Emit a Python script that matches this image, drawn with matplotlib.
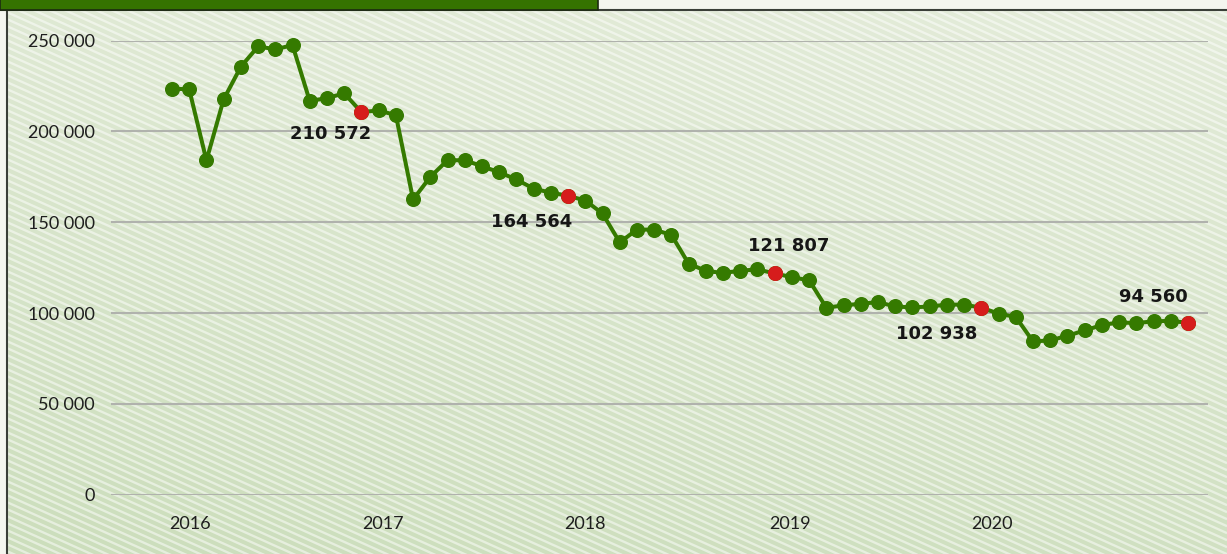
import numpy as np
import matplotlib
matplotlib.use('Agg')
import matplotlib.pyplot as plt
from matplotlib.collections import LineCollection
from matplotlib.patches import Rectangle


# monthly values, Jan 2016 .. Dec 2020
values = [223500, 223100, 184000, 217600, 235600, 246700, 245200, 247400, 216700, 218300, 220900, 210572,
          211500, 208900, 162500, 174900, 184100, 184100, 180800, 177500, 173500, 168500, 166200, 164564,
          161900, 154800, 138900, 145900, 145900, 143000, 127200, 123200, 122000, 123300, 124000, 121807,
          119700, 118000, 102900, 104200, 105100, 106000, 103600, 103100, 103600, 104600, 104600, 102938,
          99700, 97800, 84400, 84900, 87500, 90400, 93400, 94800, 94500, 95400, 95700, 94560]
years = ['2016', '2017', '2018', '2019', '2020']
year_pos = [1.05, 12.25, 24.0, 35.9, 47.6]
y_ticks = [0, 50000, 100000, 150000, 200000, 250000]
y_labels = ['0', '50 000', '100 000', '150 000', '200 000', '250 000']

# highlighted December points and label offsets (points)
hl_idx = [11, 23, 35, 47, 59]
hl_off = [(-22, -16), (-26, -19), (10, 20), (-32, -19), (-25, 19)]

W, H = 1227, 554
fig = plt.figure(figsize=(W/100, H/100), dpi=100)

# background
bg = fig.add_axes([0, 0, 1, 1])
bg.set_xlim(0, W)
bg.set_ylim(H, 0)
bg.axis('off')
bg.add_patch(Rectangle((0, 0), W, H, color='#f4f6ef', zorder=0))
yy, xx = np.mgrid[0:1:200j, 0:1:200j]
t = 0.8*yy + 0.2*(1 - xx)
c_top = np.array([228, 236, 218])/255
c_bot = np.array([204, 222, 188])/255
grad = c_top[None, None, :]*(1 - t[..., None]) + c_bot[None, None, :]*t[..., None]
bg.imshow(grad, extent=[7, W, H, 10], aspect='auto', zorder=1)
slope = 0.45
segs = []
for y0 in np.arange(-600, H + 20, 7.0):
    segs.append([(0, y0), (W, y0 + slope*W)])
stripes = LineCollection(segs, colors='white', linewidths=1.7, alpha=0.5, zorder=2)
bg.add_collection(stripes)
stripes.set_clip_path(Rectangle((7, 10), W, H, transform=bg.transData))
bg.add_patch(Rectangle((0, 0), 7, H, color='#f4f6ef', zorder=3))
bg.add_patch(Rectangle((0, 0), W, 10, color='#f4f6ef', zorder=3))
bg.plot([7, 7], [10, H], color='#3a3f38', lw=1.5, zorder=4)
bg.plot([0, W], [10, 10], color='#3a3f38', lw=1.5, zorder=4)
bg.add_patch(Rectangle((0, -2), 598, 12, facecolor='#357300', edgecolor='#1c2a12', lw=1.2, zorder=5))

# main chart
ax = fig.add_axes([111/W, (H - 494.7)/H, (1208 - 111)/W, (494.7 - 40.5)/H])
ax.patch.set_alpha(0)
x = np.arange(len(values))
ax.set_xlim((111 - 172)/17.22, (1208 - 172)/17.22)
ax.set_ylim(0, 250000)
for s in ax.spines.values():
    s.set_visible(False)
ax.set_yticks(y_ticks, labels=y_labels)
ax.set_xticks(year_pos, labels=years)
ax.tick_params(length=0, labelsize=13, colors='#1e1e1e')
ax.tick_params(axis='y', pad=11.5)
ax.tick_params(axis='x', pad=15)
for lab in ax.get_xticklabels() + ax.get_yticklabels():
    lab.set_family('Lato')
ax.grid(axis='y', color='#b0b2ad', lw=1.5)
ax.set_axisbelow(True)

ax.plot(x, values, color='#357a00', lw=2.9, marker='o', ms=9.8, zorder=3, clip_on=False)
hv = [values[i] for i in hl_idx]
ax.plot(hl_idx, hv, 'o', color='#d61c1c', ms=9.8, zorder=4, clip_on=False)
for i, (dx, dy) in zip(hl_idx, hl_off):
    ax.annotate(f'{values[i]:,}'.replace(',', ' '), (i, values[i]), xytext=(dx, dy),
                textcoords='offset points', ha='center', va='center',
                fontsize=13, fontweight='bold', color='#161616', family='DejaVu Sans')

fig.savefig('out.png', dpi=100)
